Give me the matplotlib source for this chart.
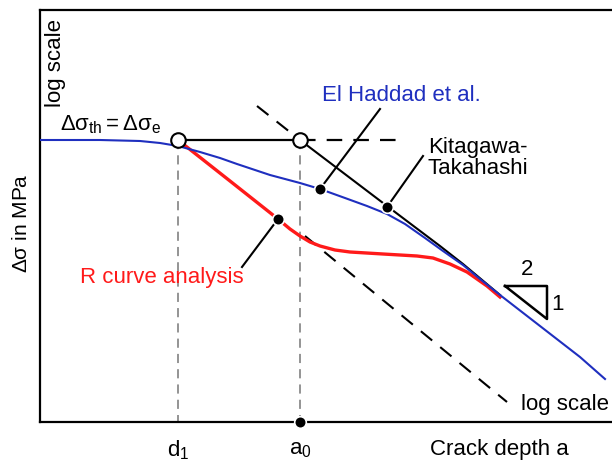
import matplotlib
matplotlib.use('Agg')
import matplotlib.pyplot as plt

plt.rcParams['font.family'] = ['Liberation Sans', 'DejaVu Sans']
plt.rcParams['mathtext.fontset'] = 'custom'
plt.rcParams['mathtext.rm'] = 'Liberation Sans'
plt.rcParams['mathtext.it'] = 'Liberation Sans'
plt.rcParams['mathtext.sf'] = 'Liberation Sans'

# schematic curves (x = crack depth, y = stress, both in drawing units)
haddad_x = [40, 100, 140, 160, 178, 200, 220, 237, 255, 270, 285, 300, 320, 345, 367, 387,
            405, 425, 443, 463, 480, 500, 540, 580, 605]
haddad_y = [141, 141, 142, 144, 147, 153, 159, 165, 171, 176, 180, 184, 190, 199, 207, 215,
            225, 239, 252, 266, 280, 296, 327, 358, 380]

rcurve_x = [178, 230, 278, 290, 300, 310, 320, 335, 350, 383, 417, 433, 450, 467, 487, 500]
rcurve_y = [141, 182, 220, 230, 237, 243, 247, 251, 253, 255, 257, 259, 265, 273, 287, 298]

kt_x = [300, 387, 440, 463, 500]
kt_y = [141, 207, 247, 265, 296]
kt_dash_x = [257, 300]
kt_dash_y = [107, 141]

lower_dash_x = [305, 507]
lower_dash_y = [237, 403]

plateau_x = [178, 300]
plateau_dash_x = [300, 397]
plateau_y = 141

d1 = 178
a0 = 300
open_pts_x = [d1, a0]
dot_haddad = (320, 190)
dot_kt = (387, 208)
dot_r = (278, 220)

fig = plt.figure(figsize=(6.12, 4.64), dpi=100)
ax = fig.add_axes([40/612, (464-423)/464, (612-40)/612, (423-11)/464])
ax.set_xlim(40, 612)
ax.set_ylim(423, 11)
ax.set_xticks([])
ax.set_yticks([])
ax.spines['right'].set_visible(False)
for s in ['left', 'top', 'bottom']:
    ax.spines[s].set_linewidth(1.6)

# guide lines
for xv in [d1, a0]:
    ax.plot([xv, xv], [plateau_y, 423], color='#777777', lw=1.1, dashes=(6, 4), zorder=1)

ax.plot(plateau_x, [plateau_y]*2, color='black', lw=1.6, zorder=2)
ax.plot(plateau_dash_x, [plateau_y]*2, color='black', lw=1.6, dashes=(7, 5), zorder=2)
ax.plot(kt_x, kt_y, color='black', lw=1.5, zorder=2, solid_joinstyle='round')
ax.plot(kt_dash_x, kt_dash_y, color='black', lw=1.5, dashes=(7, 5), zorder=2)
ax.plot(lower_dash_x, lower_dash_y, color='black', lw=1.5, dashes=(7, 5), zorder=2)

ax.plot(rcurve_x, rcurve_y, color='#ff1a1a', lw=2.4, zorder=3, solid_joinstyle='round')
ax.plot(haddad_x, haddad_y, color='#1f2fbf', lw=1.5, zorder=4, solid_joinstyle='round')

# pointers
ax.plot([dot_haddad[0], 380], [dot_haddad[1], 110], color='black', lw=1.5, zorder=2)
ax.plot([dot_kt[0], 423], [dot_kt[1], 157], color='black', lw=1.5, zorder=2)
ax.plot([dot_r[0], 242], [dot_r[1], 268], color='black', lw=1.5, zorder=2)

ax.scatter([dot_haddad[0], dot_kt[0], dot_r[0], a0], [dot_haddad[1], dot_kt[1], dot_r[1], 423],
           s=70, color='black', edgecolor='white', linewidth=1.2, zorder=6, clip_on=False)
ax.scatter(open_pts_x, [plateau_y]*2, s=110, facecolor='white', edgecolor='black', linewidth=1.5, zorder=7)

# slope triangle
ax.plot([505, 547, 547, 505], [287, 287, 320, 287], color='black', lw=1.8, zorder=2)
ax.text(527, 280, '2', fontsize=16, ha='center', va='bottom')
ax.text(551, 305, '1', fontsize=16, ha='left', va='center')

ax.text(322, 95, 'El Haddad et al.', fontsize=16, color='#1f2fbf', ha='left', va='center')
ax.text(428, 158, 'Kitagawa-\nTakahashi', fontsize=16, ha='left', va='center', linespacing=1.0)
ax.text(80, 278, 'R curve analysis', fontsize=16, color='#ff1a1a', ha='left', va='center')
ax.text(60, 125, r'$\Delta\sigma_{\mathrm{th}} = \Delta\sigma_{\mathrm{e}}$', fontsize=16, ha='left', va='center')
ax.text(55, 63, 'log scale', fontsize=16, rotation=90, ha='center', va='center')
ax.text(609, 405, 'log scale', fontsize=16, ha='right', va='center')

fig.text(22/612, 1-223/464, r'$\Delta\sigma$ in MPa', fontsize=15, rotation=90, ha='center', va='center')
fig.text(d1/612, 1-450/464, r'$\mathrm{d}_1$', fontsize=16, ha='center', va='center')
fig.text(a0/612, 1-450/464, r'$\mathrm{a}_0$', fontsize=16, ha='center', va='center')
fig.text(499/612, 1-450/464, 'Crack depth a', fontsize=16, ha='center', va='center')

fig.savefig('out.png', dpi=100)
